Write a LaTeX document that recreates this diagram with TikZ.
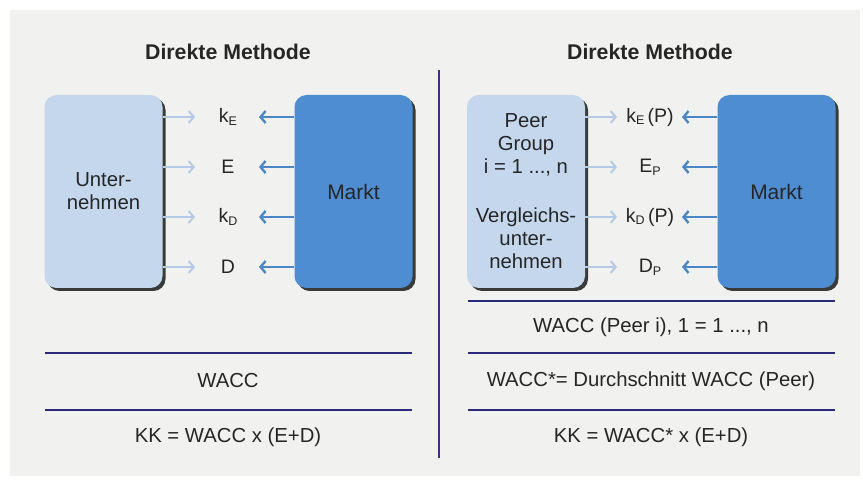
\documentclass[tikz,border=0pt]{standalone}
\usepackage{fontspec}
\setmainfont{Liberation Sans}
\usetikzlibrary{arrows.meta,calc,shadows}
\definecolor{panel}{HTML}{F1F1EF}
\definecolor{lightbox}{HTML}{C4D7ED}
\definecolor{marktbox}{HTML}{4E8DD1}
\definecolor{shadowc}{HTML}{3A3A3A}
\definecolor{lightarrow}{HTML}{B3CBE6}
\definecolor{darkarrow}{HTML}{4A86C8}
\definecolor{rulec}{HTML}{2B2A7A}
\definecolor{divc}{HTML}{4A2A80}
\definecolor{txt}{HTML}{262626}
\newcommand\sub[1]{\raisebox{-0.15em}{\fontsize{12.5}{12.5}\selectfont #1}}
\begin{document}
\begin{tikzpicture}[x=1pt,y=-1pt,
  every node/.style={text=txt, font=\fontsize{20.3}{23}\selectfont},
  boxbase/.style={rounded corners=12pt, minimum width=118pt, minimum height=193pt,
     inner sep=0pt, align=center,
     drop shadow={shadow xshift=3pt, shadow yshift=-3pt, fill=shadowc, opacity=1}},
  lbox/.style={boxbase, fill=lightbox},
  mbox/.style={boxbase, fill=marktbox, font=\fontsize{21}{24}\selectfont},
  title/.style={font=\bfseries\fontsize{21.3}{24}\selectfont},
  lab/.style={font=\fontsize{19.5}{22}\selectfont},
  larrow/.style={draw=lightarrow, line width=2pt, -{Straight Barb[length=5pt,width=12pt]}},
  darrow/.style={draw=darkarrow, line width=2.4pt, -{Straight Barb[length=5pt,width=12pt]}},
  hrule/.style={draw=rulec, line width=1.6pt},
]
\useasboundingbox (0,0) rectangle (863,481);
\fill[white] (0,0) rectangle (863,481);
\fill[panel] (10,10) rectangle (860,476);

% titles
\node[title] (t1) at (228,52) {Direkte Methode};
\node[title] (t2) at (650,52) {Direkte Methode};

% divider
\draw[draw=divc, line width=1.6pt] (439,70) -- (439,458);

% left side boxes
\node[lbox] (unt) at (103.5,191.5) {Unter-\\nehmen};
\node[mbox] (mkl) at (353.5,191.5) {Markt};

% left labels
\node[lab] (lke) at (228,117) {k\sub{E}};
\node[lab] (le)  at (228,167) {E};
\node[lab] (lkd) at (228,217) {k\sub{D}};
\node[lab] (ld)  at (228,267) {D};

\coordinate (tL) at (195,0);
\coordinate (tR) at (259,0);
\foreach \n in {lke,le,lkd,ld}{
  \draw[larrow] (unt.east |- \n) -- (\n -| tL);
  \draw[darrow] (mkl.west |- \n) -- (\n -| tR);
}

% right side boxes
\node[lbox] (peer) at (526,191.5) {Peer\\Group\\i = 1 ..., n\\[26pt]Vergleichs-\\unter-\\nehmen};
\node[mbox] (mkr) at (776.5,191.5) {Markt};

% right labels
\node[lab] (rke) at (650,117) {k\sub{E}\,(P)};
\node[lab] (re)  at (650,167) {E\sub{P}};
\node[lab] (rkd) at (650,217) {k\sub{D}\,(P)};
\node[lab] (rd)  at (650,267) {D\sub{P}};

\coordinate (uL) at (617,0);
\coordinate (uR) at (682,0);
\foreach \n in {rke,re,rkd,rd}{
  \draw[larrow] (peer.east |- \n) -- (\n -| uL);
  \draw[darrow] (mkr.west |- \n) -- (\n -| uR);
}

% left lower section
\draw[hrule] (45,353) -- (412,353);
\draw[hrule] (45,410) -- (412,410);
\node (w1) at (228,381) {WACC};
\node (k1) at (228,437) {KK = WACC x (E+D)};

% right lower section
\draw[hrule] (468,301) -- (835,301);
\draw[hrule] (468,353) -- (835,353);
\draw[hrule] (468,410) -- (835,410);
\node (w2) at (651,327) {WACC (Peer i), 1 = 1 ..., n};
\node (w3) at (651,381) {WACC*= Durchschnitt WACC (Peer)};
\node (k2) at (651,437) {KK = WACC* x (E+D)};
\end{tikzpicture}
\end{document}
